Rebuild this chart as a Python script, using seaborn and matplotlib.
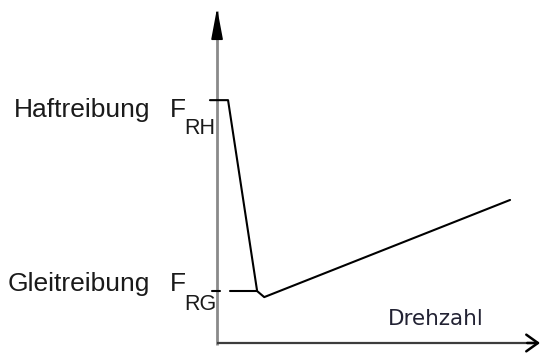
import matplotlib
matplotlib.use("Agg")
import matplotlib.pyplot as plt
import seaborn as sns
import pandas as pd

# Friction force vs. rotational speed (Stribeck-like sketch)
drehzahl = [-0.22, 0.34, 1.24, 1.46, 9.07]
reibkraft = [7.25, 7.25, 1.55, 1.37, 4.27]

f_rh = 7.25   # Haftreibung level
f_rg = 1.55   # Gleitreibung level
gleit_x = [0.40, 1.24]
tick_x = [-0.15, 0.08]

labels = ["Haftreibung", "Gleitreibung"]
subscripts = ["RH", "RG"]
x_label = "Drehzahl"

sns.set_theme(style="white")
label_font = ["Liberation Sans", "DejaVu Sans"]

fig = plt.figure(figsize=(5.43, 3.58), dpi=100)
ax = fig.add_axes([0, 0, 1, 1])
ax.set_xlim(-6.72, 10.09)
ax.set_ylim(-0.448, 10.24)
ax.axis("off")

# axes with arrows
ax.plot([0, 0], [-0.06, 9.9], color="#8a8a8a", lw=2.0, solid_capstyle="butt")
ax.plot([0, 9.9], [0, 0], color="#3c3c3c", lw=1.6, solid_capstyle="butt")
ax.annotate("", xy=(0, 10.0), xytext=(0, 9.6),
            arrowprops=dict(arrowstyle="-|>,head_length=1.6,head_width=0.3",
                            color="black", lw=1.2, shrinkA=0, shrinkB=0))
ax.annotate("", xy=(10.0, 0), xytext=(9.6, 0),
            arrowprops=dict(arrowstyle="->,head_length=0.7,head_width=0.5",
                            color="black", lw=1.8, shrinkA=0, shrinkB=0))

# curve
df = pd.DataFrame({"Drehzahl": drehzahl, "Reibkraft": reibkraft})
sns.lineplot(data=df, x="Drehzahl", y="Reibkraft", sort=False, estimator=None,
             color="black", lw=1.5, ax=ax)
ax.plot(gleit_x, [f_rg, f_rg], color="black", lw=1.5)
ax.plot(tick_x, [f_rg, f_rg], color="black", lw=1.5)

# level labels
for lvl, lab, sub, dy, dsub in zip([f_rh, f_rg], labels, subscripts,
                                   [-17, 0], [-34, -19]):
    ax.annotate(lab, xy=(0, lvl), xytext=(-67, dy), textcoords="offset pixels",
                ha="right", va="baseline", fontsize=19, family=label_font,
                color="#1a1a1a")
    ax.annotate("F", xy=(0, lvl), xytext=(-47, dy), textcoords="offset pixels",
                ha="left", va="baseline", fontsize=19, family=label_font,
                color="#1a1a1a")
    ax.annotate(sub, xy=(0, lvl), xytext=(-33, dsub), textcoords="offset pixels",
                ha="left", va="baseline", fontsize=15.5, family=label_font,
                color="#1a1a1a")

ax.annotate(x_label, xy=(0, 0), xytext=(171, 18), textcoords="offset pixels",
            ha="left", va="baseline", fontsize=15.5, color="#222233")

fig.savefig("out.png", dpi=100)
